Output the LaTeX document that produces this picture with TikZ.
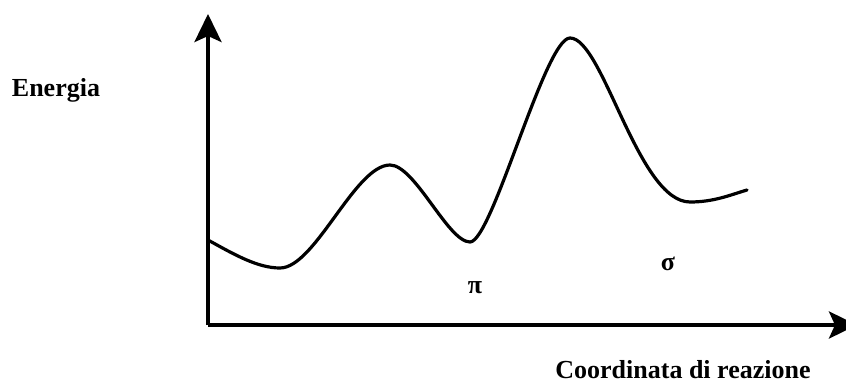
\documentclass[tikz,border=0pt]{standalone}
\usepackage{fontspec}
\setmainfont{Liberation Serif}
\usetikzlibrary{arrows.meta}
\begin{document}
\begin{tikzpicture}[x=1pt,y=-1pt,
  axis/.style={line width=4pt,-{Stealth[length=28pt,width=27pt,inset=6pt]}},
  curve/.style={line width=3.2pt,line cap=round,line join=round},
  lbl/.style={font=\bfseries\fontsize{26}{30}\selectfont,inner sep=0pt}]
\useasboundingbox (0,0) rectangle (846,385);
\coordinate (o) at (208,325);
\coordinate (ytop) at (208,14);
\coordinate (xend) at (857,325);
\draw[axis] (o) -- (ytop);
\draw[axis] (o) -- (xend);
\coordinate (s) at (208,240);
\coordinate (m1) at (280,268);
\coordinate (p1) at (390,165);
\coordinate (m2) at (470,242);
\coordinate (p2) at (570,38);
\coordinate (m3) at (690,202);
\coordinate (e) at (747,190);
\draw[curve] (s) .. controls (235,255) and (258,268) .. (m1)
  .. controls (315,268) and (355,165) .. (p1)
  .. controls (415,165) and (448,242) .. (m2)
  .. controls (492,242) and (545,38) .. (p2)
  .. controls (603,38) and (638,202) .. (m3)
  .. controls (714,202) and (730,195) .. (e);
\node[lbl] (en) at (56,90) {Energia};
\node[lbl] (pi) at (475,288) {π};
\node[lbl] (si) at (668,264) {σ};
\node[lbl] (co) at (683,370) {Coordinata di reazione};
\end{tikzpicture}
\end{document}
